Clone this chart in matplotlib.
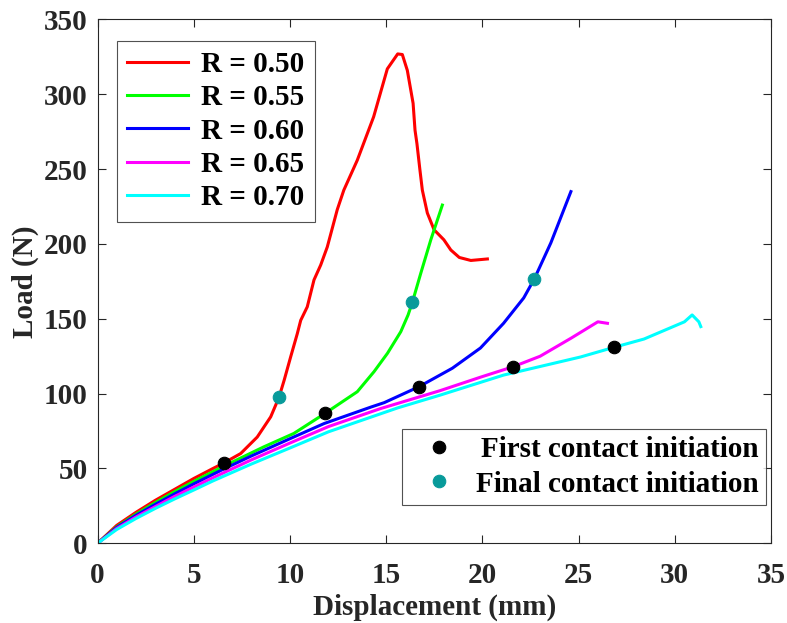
import matplotlib
matplotlib.use("Agg")
import matplotlib.pyplot as plt

plt.rcParams['font.family'] = ['Liberation Serif', 'DejaVu Serif']
plt.rcParams['font.weight'] = 'bold'

# Load-displacement curves for each radius ratio
r050_x = [0, 1, 2, 3, 4, 5, 6, 6.57, 7.44, 8.3, 9.0, 9.43, 9.7, 10.04, 10.38, 10.56, 10.9,
          11.25, 11.6, 11.94, 12.46, 12.8, 13.5, 14.35, 15.06, 15.6, 15.84, 16.1, 16.4,
          16.5, 16.6, 16.75, 16.88, 17.14, 17.49, 18.0, 18.36, 18.8, 19.4, 20.26]
r050_y = [0, 12, 20.7, 28.7, 36, 43.3, 50, 53.7, 60, 71, 84.5, 97.5, 109, 124.7, 140, 149, 158,
          176, 186, 198, 223, 236, 256, 285, 317, 327, 326.6, 316, 294,
          276, 267, 250, 236, 220.7, 209.5, 202.8, 196, 191, 189, 190]

r055_x = [0, 1, 2, 3, 4, 5.1, 6.6, 8.65, 10.2, 11.82, 13.5, 14.37, 15.07, 15.76, 16.14,
          16.36, 16.8, 17.32, 17.92]
r055_y = [0, 11, 19.5, 27.2, 34.5, 42, 51.8, 64.5, 73.4, 86.8, 101.3, 114.7, 127, 141.4, 152.6,
          161, 180.5, 202.8, 226]

r060_x = [0, 1, 2, 3, 4, 5, 6.55, 8, 10, 11.77, 14.2, 14.9, 16.7, 18.44, 19.9, 21.1, 22.15,
          22.7, 23.56, 24.6]
r060_y = [0, 10.6, 18.7, 26, 33, 39.7, 49.6, 58.4, 69.9, 80, 91, 94, 104.6, 117, 130.5, 147, 164,
          176.7, 200.8, 235]

r065_x = [0, 1, 2, 3, 4, 5, 6, 8, 10, 12, 14.7, 17.8, 19.9, 21.6, 23.0, 24.6, 26.0, 26.5]
r065_y = [0, 9.9, 17.6, 24.5, 31.3, 37.6, 43.8, 55.8, 67, 78, 90, 102, 111, 118, 125, 137, 148, 147]

r070_x = [0, 1, 2, 3, 4, 5, 6, 8, 10, 12, 15.6, 17.8, 21.1, 25.1, 26.85, 28.4, 30.5,
          30.9, 31.25, 31.35]
r070_y = [0, 9.25, 16.6, 23.3, 29.6, 35.6, 41.7, 53, 63.7, 74.5, 90.5, 99, 112.4, 124.5, 131,
          136.5, 148, 152.6, 148, 144.8]

series_labels = ['R = 0.50', 'R = 0.55', 'R = 0.60', 'R = 0.65', 'R = 0.70']
series_colors = ['#ff0000', '#00ff00', '#0000ff', '#ff00ff', '#00ffff']

# Contact initiation points
first_x = [6.57, 11.82, 16.7, 21.6, 26.85]
first_y = [53.7, 86.8, 104.6, 118, 131]
final_x = [9.43, 16.36, 22.7]
final_y = [97.5, 161, 176.7]

x_ticks = [0, 5, 10, 15, 20, 25, 30, 35]
y_ticks = [0, 50, 100, 150, 200, 250, 300, 350]

FS = 21
INK = '#262626'

fig = plt.figure(figsize=(7.87, 6.23), dpi=100)
ax = fig.add_axes([0.1239, 0.1279, 0.8558, 0.8408])

curves = [(r050_x, r050_y), (r055_x, r055_y), (r060_x, r060_y), (r065_x, r065_y), (r070_x, r070_y)]
handles = []
for (xs, ys), lab, col in zip(curves, series_labels, series_colors):
    h, = ax.plot(xs, ys, color=col, lw=2.2, label=lab, solid_joinstyle='round')
    handles.append(h)

hf, = ax.plot(first_x, first_y, 'o', color='black', ms=9, mew=0.8, ls='none', zorder=5,
              label='First contact initiation')
hl, = ax.plot(final_x, final_y, 'o', color='#089a9a', ms=9, mew=0.8, ls='none', zorder=5,
              label='Final contact initiation')

ax.set_xlim(0, 35)
ax.set_ylim(0, 350)
ax.set_xticks(x_ticks)
ax.set_yticks(y_ticks)
ax.tick_params(direction='in', length=6, width=0.8, colors=INK, labelsize=FS,
               top=True, right=True)
ax.tick_params(axis='x', pad=13.5)
ax.tick_params(axis='y', pad=7)
for lab in ax.get_xticklabels() + ax.get_yticklabels():
    lab.set_fontweight('bold')
    lab.set_color(INK)
for sp in ax.spines.values():
    sp.set_color(INK)
    sp.set_linewidth(0.8)

ax.set_xlabel('Displacement (mm)', fontsize=FS, fontweight='bold', color=INK, labelpad=3)
ax.set_ylabel('Load (N)', fontsize=FS, fontweight='bold', color=INK, labelpad=3.5)

leg1 = ax.legend(handles=handles, loc='upper left', bbox_to_anchor=(0.0282, 0.9598),
                 borderaxespad=0, fontsize=FS, frameon=True, fancybox=False,
                 edgecolor=INK, handlelength=2.11, handletextpad=0.45,
                 labelspacing=0.22, borderpad=0.35)
leg1.get_frame().set_linewidth(0.8)
for t in leg1.get_texts():
    t.set_fontweight('bold')
ax.add_artist(leg1)

leg2 = ax.legend(handles=[hf, hl], loc='lower right', bbox_to_anchor=(0.9926, 0.074),
                 borderaxespad=0, fontsize=FS, frameon=True, fancybox=False,
                 edgecolor=INK, handlelength=2.08, handletextpad=0.23,
                 labelspacing=0.25, borderpad=0.24)
leg2.get_frame().set_linewidth(0.8)
for t in leg2.get_texts():
    t.set_fontweight('bold')

# Right-align the labels of the marker legend
fig.canvas.draw()
r = fig.canvas.get_renderer()
texts = leg2.get_texts()
widths = [t.get_window_extent(r).width for t in texts]
wmax = max(widths)
for t, w in zip(texts, widths):
    t.set_x(t.get_position()[0] + (wmax - w))

fig.savefig('out.png', dpi=100)
